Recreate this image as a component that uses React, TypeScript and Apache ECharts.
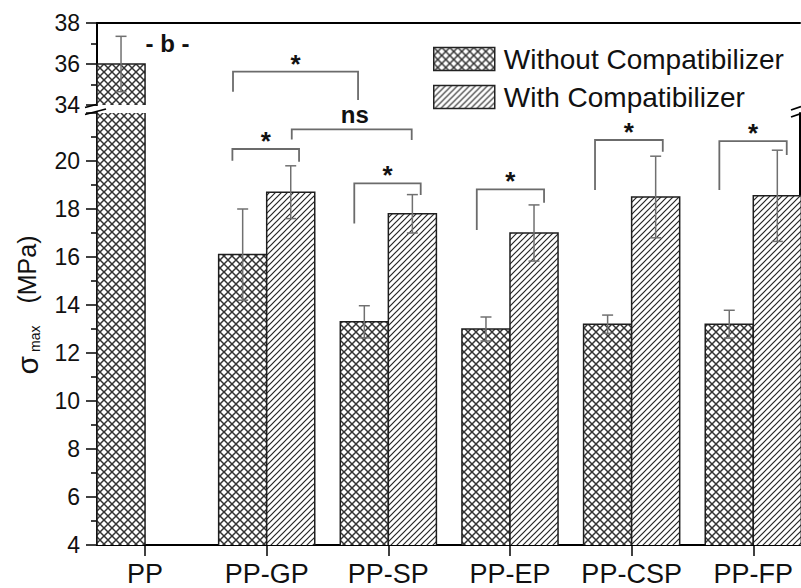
import React, { useEffect, useRef } from 'react';
import * as echarts from 'echarts';

const categories = ['PP', 'PP-GP', 'PP-SP', 'PP-EP', 'PP-CSP', 'PP-FP'];
const withoutValues = [36.0, 16.1, 13.3, 13.0, 13.2, 13.2];
const withoutErrors = [1.35, 1.9, 0.67, 0.5, 0.38, 0.58];
const withValues: (number | null)[] = [null, 18.7, 17.8, 17.0, 18.5, 18.55];
const withErrors: (number | null)[] = [null, 1.1, 0.8, 1.17, 1.7, 1.9];

const lowerRange = [4, 22];
const upperRange = [34, 38];
const tickStep = 2;

// significance brackets (x in category units, y in lower-axis units)
const bracketX1 = [0.723, 1.206, 0.718, 1.72, 2.727, 3.699, 4.721];
const bracketX2 = [1.751, 2.192, 1.266, 2.266, 3.28, 4.256, 5.275];
const bracketTop = [23.72, 21.32, 20.5, 19.07, 18.82, 20.875, 20.83];
const bracketLeftEnd = [22.89, 20.9, 20.01, 17.4, 17.125, 18.79, 18.79];
const bracketRightEnd = [22.54, 20.875, 19.97, 18.58, 18.26, 20.39, 20.25];
const bracketLabels = ['*', 'ns', '*', '*', '*', '*', '*'];

// note in upper panel
const noteX = [0.185];
const noteY = [37.0];
const noteText = ['- b -'];

const FONT = "'Liberation Sans', Arial, Helvetica, sans-serif";
const BAR_W = 0.395;
const X_MIN = -0.395;
const X_MAX = 5.384;

function makeTile(kind: 'cross' | 'hatch'): string {
  const s = kind === 'cross' ? 8 : 6;
  const c = document.createElement('canvas');
  c.width = s;
  c.height = s;
  const g = c.getContext('2d') as CanvasRenderingContext2D;
  g.fillStyle = '#ffffff';
  g.fillRect(0, 0, s, s);
  g.strokeStyle = kind === 'cross' ? '#333333' : '#262626';
  g.lineWidth = kind === 'cross' ? 1.5 : 1.2;
  g.beginPath();
  g.moveTo(0, s);
  g.lineTo(s, 0);
  if (kind === 'cross') {
    g.moveTo(0, 0);
    g.lineTo(s, s);
  } else {
    g.moveTo(-1, 1);
    g.lineTo(1, -1);
    g.moveTo(s - 1, s + 1);
    g.lineTo(s + 1, s - 1);
  }
  g.stroke();
  return c.toDataURL();
}

function barRenderer(side: number, lo: number, hi: number, pattern: any) {
  return (params: any, api: any) => {
    const i = api.value(0);
    const v = api.value(1);
    const e = api.value(2);
    if (!(v > lo)) return null;
    const top = Math.min(v, hi);
    const xa = side < 0 ? i - BAR_W : i;
    const xb = side < 0 ? i : i + BAR_W;
    const pBL = api.coord([xa, lo]);
    const pTR = api.coord([xb, top]);
    const edge = { stroke: '#1e1e1e', lineWidth: 1.5, fill: 'none' };
    const children: any[] = [
      {
        type: 'rect',
        shape: { x: pBL[0], y: pTR[1], width: pTR[0] - pBL[0], height: pBL[1] - pTR[1] },
        style: { fill: pattern, stroke: 'none' },
      },
    ];
    if (v <= hi) {
      children.push({
        type: 'polyline',
        shape: { points: [[pBL[0], pBL[1]], [pBL[0], pTR[1]], [pTR[0], pTR[1]], [pTR[0], pBL[1]]] },
        style: edge,
      });
      const cx = (pBL[0] + pTR[0]) / 2;
      const yT = api.coord([i, v + e])[1];
      const yB = api.coord([i, v - e])[1];
      const es = { stroke: '#707070', lineWidth: 1.5 };
      children.push({ type: 'line', shape: { x1: cx, y1: yT, x2: cx, y2: yB }, style: es });
      children.push({ type: 'line', shape: { x1: cx - 5.5, y1: yT, x2: cx + 5.5, y2: yT }, style: es });
      children.push({ type: 'line', shape: { x1: cx - 5.5, y1: yB, x2: cx + 5.5, y2: yB }, style: es });
    } else {
      children.push({ type: 'line', shape: { x1: pBL[0], y1: pBL[1], x2: pBL[0], y2: pTR[1] }, style: edge });
      children.push({ type: 'line', shape: { x1: pTR[0], y1: pBL[1], x2: pTR[0], y2: pTR[1] }, style: edge });
    }
    return { type: 'group', children };
  };
}

function seriesData(values: (number | null)[], errs: (number | null)[]) {
  const out: number[][] = [];
  values.forEach((v, i) => {
    if (v != null) out.push([i, v, (errs[i] as number) || 0]);
  });
  return out;
}

export default function App() {
  const ref = useRef<HTMLDivElement>(null);
  useEffect(() => {
    if (!ref.current) return;
    const chart = echarts.init(ref.current, undefined, { renderer: 'svg' });
    const cross = { image: makeTile('cross'), repeat: 'repeat', imageWidth: 8, imageHeight: 8 };
    const hatch = { image: makeTile('hatch'), repeat: 'repeat', imageWidth: 6, imageHeight: 6 };

    const hiddenX = (gridIndex: number, position: string, showLine: boolean) => ({
      type: 'value',
      gridIndex,
      position,
      min: X_MIN,
      max: X_MAX,
      axisLine: { show: showLine, onZero: false, lineStyle: { color: '#000', width: 2 } },
      axisTick: { show: false },
      axisLabel: { show: false },
      splitLine: { show: false },
    });

    const leftY = (gridIndex: number, range: number[]) => ({
      type: 'value',
      gridIndex,
      position: 'left',
      min: range[0],
      max: range[1],
      interval: tickStep,
      axisLine: { show: true, onZero: false, lineStyle: { color: '#000', width: 2 } },
      axisTick: { show: true, length: 11, lineStyle: { color: '#000', width: 1.5 } },
      minorTick: { show: true, splitNumber: 2, length: 6, lineStyle: { color: '#000', width: 1.5 } },
      axisLabel: {
        show: true,
        fontSize: 23,
        fontFamily: FONT,
        color: '#111',
        margin: 17,
        formatter: (val: number) => (val === 22 ? '' : String(val)),
      },
      splitLine: { show: false },
      minorSplitLine: { show: false },
    });

    const option: any = {
      animation: false,
      backgroundColor: '#fff',
      grid: [
        { left: 97, right: 1, top: 113, bottom: 43, outerBoundsMode: 'none' },
        { left: 97, right: 1, top: 23, height: 82, outerBoundsMode: 'none' },
        { left: 84.17, right: -13.13, top: 113, bottom: 43, outerBoundsMode: 'none' },
      ],
      xAxis: [
        hiddenX(0, 'bottom', true),
        hiddenX(1, 'top', true),
        {
          type: 'category',
          gridIndex: 2,
          position: 'bottom',
          data: categories,
          axisLine: { show: false },
          axisTick: { show: true, alignWithLabel: true, length: 11, lineStyle: { color: '#000', width: 1.5 } },
          axisLabel: { show: true, interval: 0, fontSize: 27, fontFamily: FONT, color: '#111', margin: 15 },
          splitLine: { show: false },
        },
      ],
      yAxis: [
        leftY(0, lowerRange),
        {
          type: 'value',
          gridIndex: 0,
          position: 'right',
          min: lowerRange[0],
          max: lowerRange[1],
          axisLine: { show: true, onZero: false, lineStyle: { color: '#000', width: 2 } },
          axisTick: { show: false },
          axisLabel: { show: false },
          splitLine: { show: false },
        },
        leftY(1, upperRange),
        { type: 'value', gridIndex: 2, show: false, min: 0, max: 1, splitLine: { show: false } },
      ],
      legend: {
        orient: 'vertical',
        left: 428,
        top: 40,
        itemWidth: 61,
        itemHeight: 23,
        itemGap: 10,
        selectedMode: false,
        textStyle: { fontSize: 28, fontFamily: FONT, color: '#111', lineHeight: 23, padding: [0, 0, 0, 4] },
        data: [
          { name: 'Without Compatibilizer', icon: 'rect', itemStyle: { color: cross, borderColor: '#222', borderWidth: 1.5 } },
          { name: 'With Compatibilizer', icon: 'rect', itemStyle: { color: hatch, borderColor: '#222', borderWidth: 1.5 } },
        ],
      },
      series: [
        {
          type: 'custom',
          name: 'Without Compatibilizer',
          xAxisIndex: 0,
          yAxisIndex: 0,
          silent: true,
          itemStyle: { color: cross },
          data: seriesData(withoutValues, withoutErrors),
          renderItem: barRenderer(-1, lowerRange[0], lowerRange[1], cross),
        },
        {
          type: 'custom',
          name: 'With Compatibilizer',
          xAxisIndex: 0,
          yAxisIndex: 0,
          silent: true,
          itemStyle: { color: hatch },
          data: seriesData(withValues, withErrors),
          renderItem: barRenderer(1, lowerRange[0], lowerRange[1], hatch),
        },
        {
          type: 'custom',
          name: 'Without Compatibilizer',
          xAxisIndex: 1,
          yAxisIndex: 2,
          silent: true,
          itemStyle: { color: cross },
          data: seriesData(withoutValues, withoutErrors),
          renderItem: barRenderer(-1, upperRange[0], upperRange[1], cross),
        },
        {
          type: 'custom',
          name: 'With Compatibilizer',
          xAxisIndex: 1,
          yAxisIndex: 2,
          silent: true,
          itemStyle: { color: hatch },
          data: seriesData(withValues, withErrors),
          renderItem: barRenderer(1, upperRange[0], upperRange[1], hatch),
        },
        {
          type: 'custom',
          name: 'brackets',
          xAxisIndex: 0,
          yAxisIndex: 0,
          silent: true,
          clip: false,
          data: bracketX1.map((x, i) => [x, bracketX2[i], bracketTop[i], bracketLeftEnd[i], bracketRightEnd[i]]),
          renderItem: (params: any, api: any) => {
            const x1 = api.value(0);
            const x2 = api.value(1);
            const yt = api.value(2);
            const yl = api.value(3);
            const yr = api.value(4);
            const label = bracketLabels[params.dataIndex];
            const pl = api.coord([x1, yl]);
            const ptl = api.coord([x1, yt]);
            const ptr = api.coord([x2, yt]);
            const pr = api.coord([x2, yr]);
            const ns = label === 'ns';
            return {
              type: 'group',
              children: [
                { type: 'polyline', shape: { points: [pl, ptl, ptr, pr] }, style: { stroke: '#6b6b6b', lineWidth: 1.8, fill: 'none' } },
                {
                  type: 'text',
                  x: (ptl[0] + ptr[0]) / 2 + (ns ? 3 : 0),
                  y: ptl[1] - (ns ? 15 : 8),
                  style: {
                    text: label,
                    fontSize: ns ? 24 : 26,
                    fontWeight: 'bold',
                    fontFamily: FONT,
                    fill: '#111',
                    align: 'center',
                    verticalAlign: 'middle',
                  },
                },
              ],
            };
          },
        },
        {
          type: 'custom',
          name: 'note',
          xAxisIndex: 1,
          yAxisIndex: 2,
          silent: true,
          clip: false,
          data: noteX.map((x, i) => [x, noteY[i]]),
          renderItem: (params: any, api: any) => {
            const p = api.coord([api.value(0), api.value(1)]);
            return {
              type: 'text',
              x: p[0],
              y: p[1],
              style: {
                text: noteText[params.dataIndex],
                fontSize: 24,
                fontWeight: 'bold',
                fontFamily: FONT,
                fill: '#111',
                align: 'center',
                verticalAlign: 'middle',
              },
            };
          },
        },
      ],
      graphic: [
        {
          type: 'text',
          x: 27,
          y: 305,
          rotation: Math.PI / 2,
          style: {
            text: '{s|σ}{m|max}{u|(MPa)}',
            align: 'center',
            verticalAlign: 'middle',
            rich: {
              s: { fontSize: 30, fontFamily: FONT, fill: '#111' },
              m: { fontSize: 14, fontFamily: FONT, fill: '#111', verticalAlign: 'bottom', padding: [0, 22, 0, 4] },
              u: { fontSize: 25, fontFamily: FONT, fill: '#111' },
            },
          },
        },
        // axis break marks
        { type: 'line', shape: { x1: 85, y1: 107.5, x2: 104, y2: 102.5 }, style: { stroke: '#000', lineWidth: 1.8 } },
        { type: 'line', shape: { x1: 85, y1: 114.5, x2: 106, y2: 109 }, style: { stroke: '#000', lineWidth: 1.8 } },
        { type: 'line', shape: { x1: 791, y1: 110, x2: 801, y2: 106.5 }, style: { stroke: '#000', lineWidth: 1.8 } },
        { type: 'line', shape: { x1: 791, y1: 117, x2: 801, y2: 113.5 }, style: { stroke: '#000', lineWidth: 1.8 } },
      ],
    };
    chart.setOption(option);
    return () => chart.dispose();
  }, []);
  return (
    <div
      ref={ref}
      style={{ position: 'absolute', left: 0, top: 0, width: 801, height: 588, background: '#fff' }}
    />
  );
}
